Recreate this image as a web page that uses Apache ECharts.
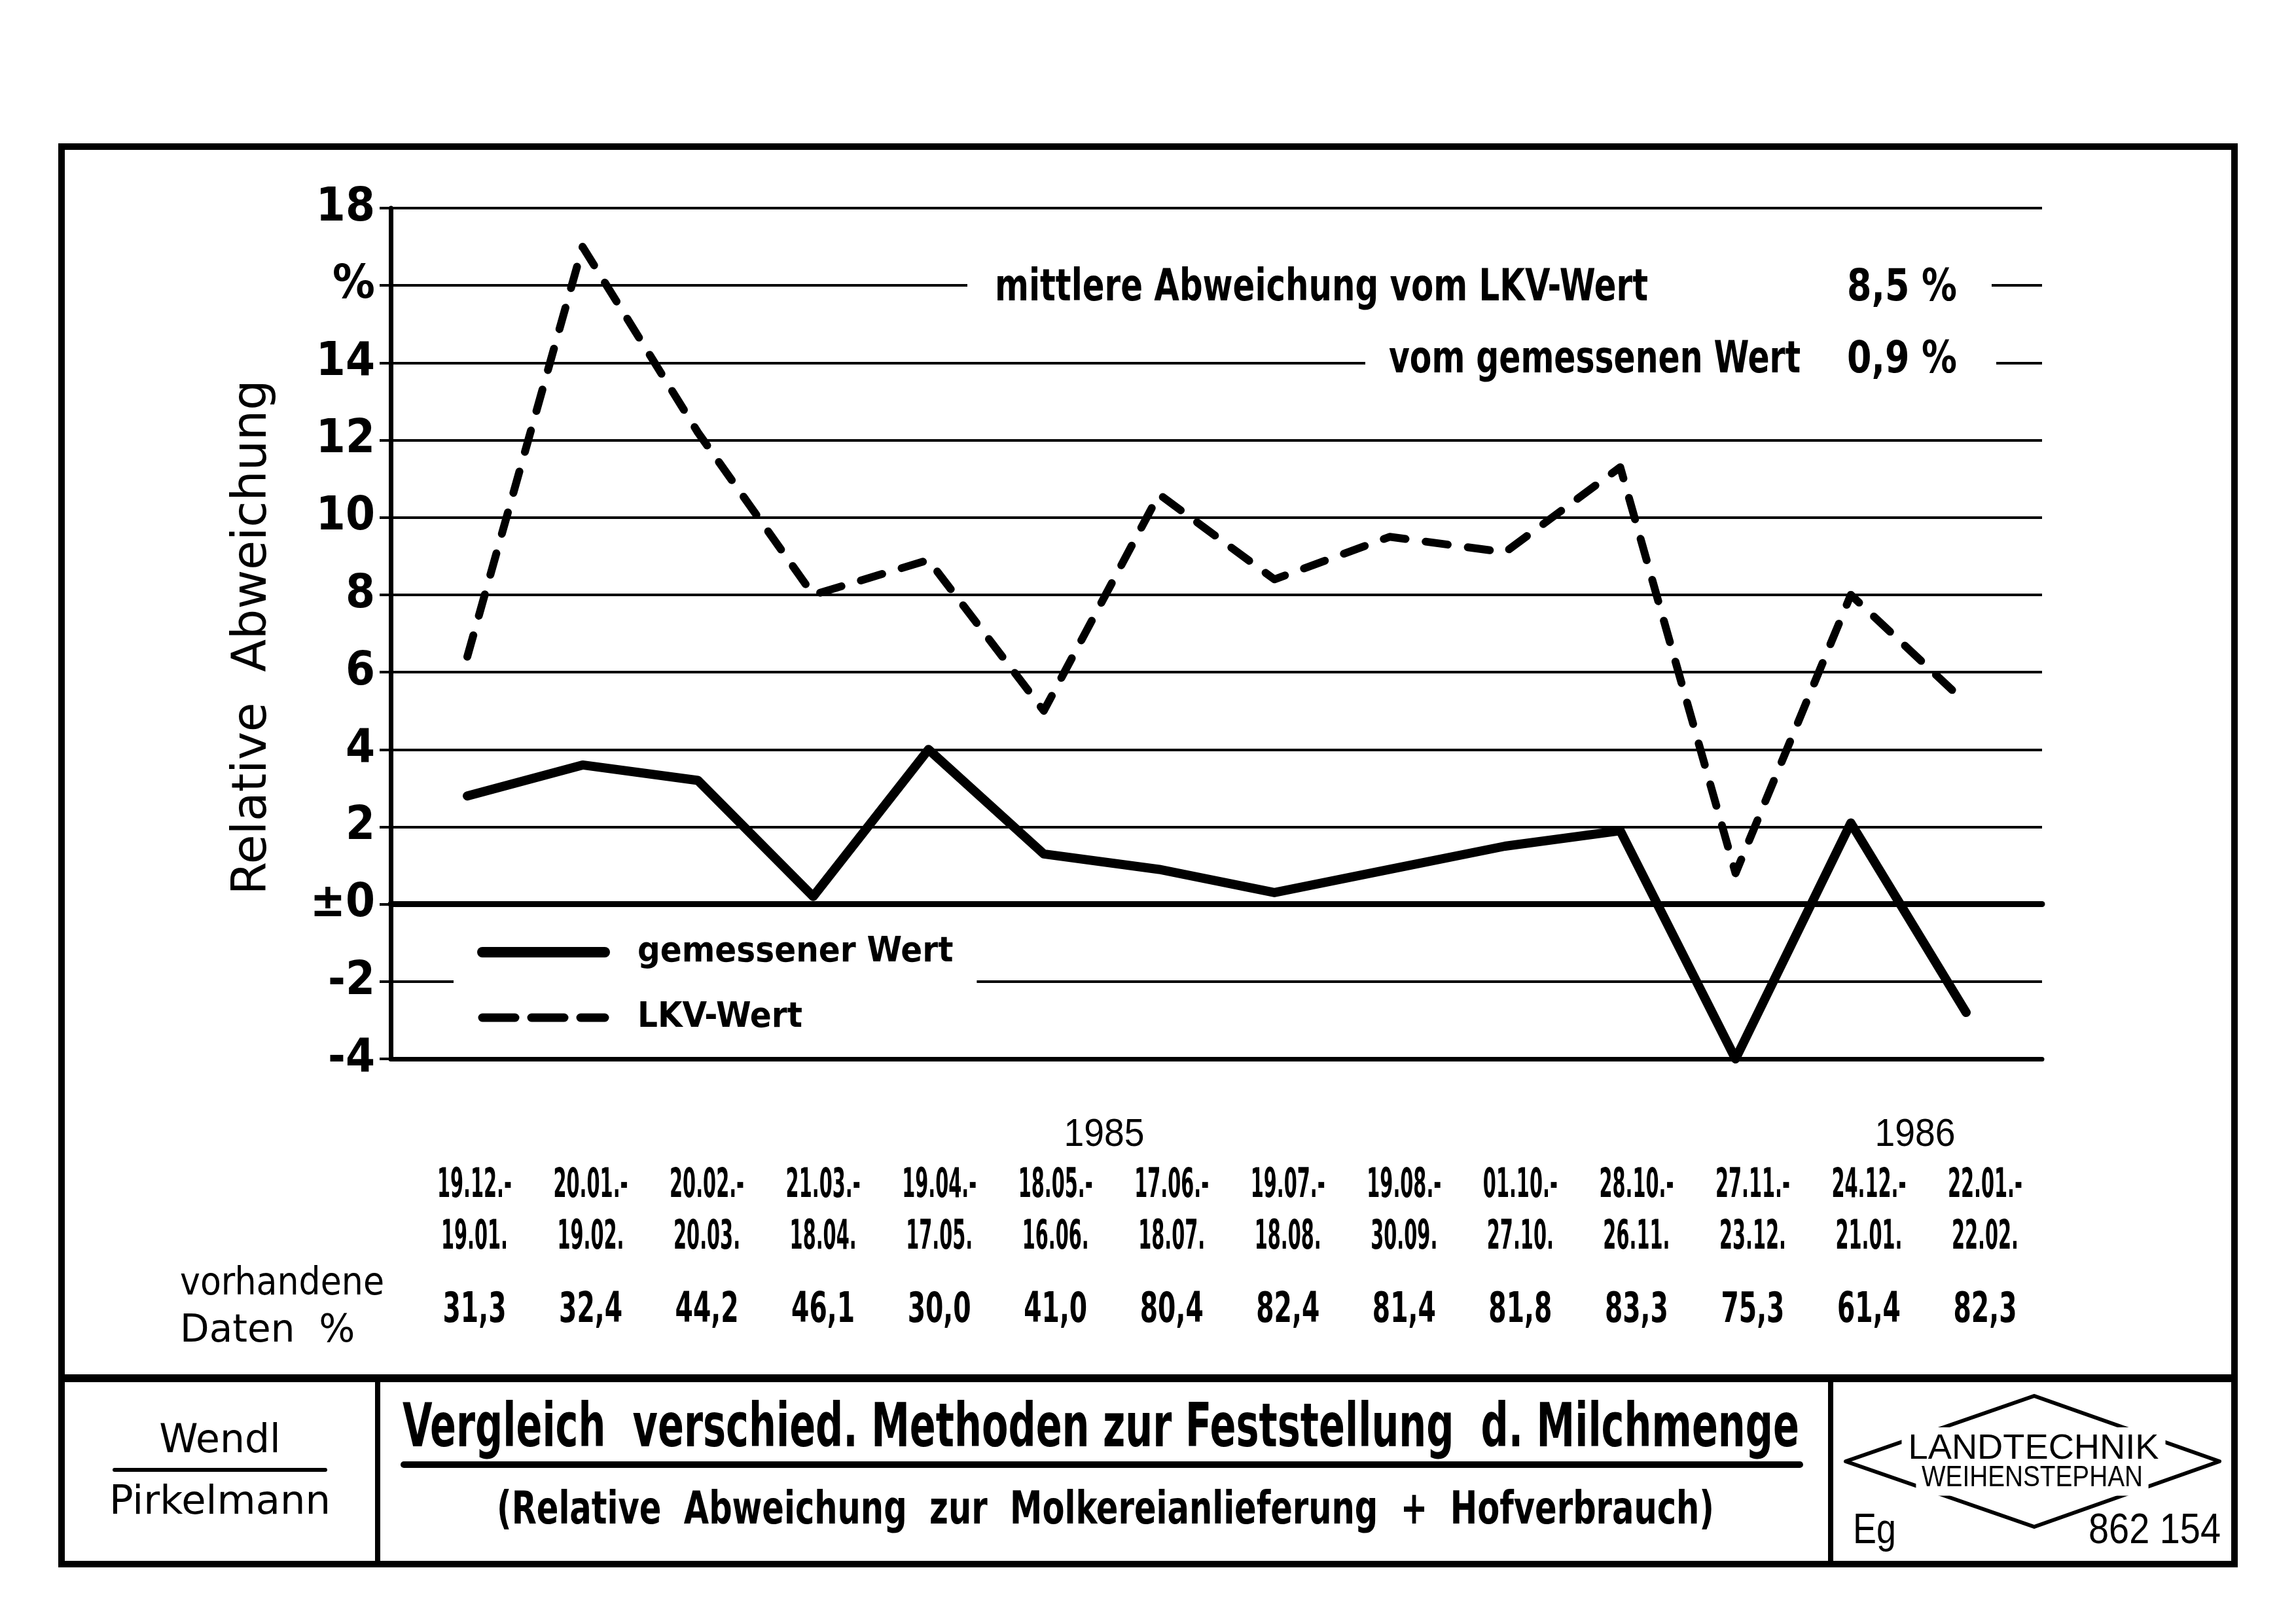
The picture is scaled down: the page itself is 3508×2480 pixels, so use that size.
<!DOCTYPE html>
<html><head><meta charset="utf-8">
<script src="https://cdn.jsdelivr.net/npm/echarts@6/dist/echarts.min.js"></script>
<style>html,body{margin:0;padding:0;background:#fff}#c{width:3508px;height:2480px}</style>
</head><body><div id="c"></div>
<script>
// ---------- data ----------
const periodStart = ['19.12.-','20.01.-','20.02.-','21.03.-','19.04.-','18.05.-','17.06.-','19.07.-','19.08.-','01.10.-','28.10.-','27.11.-','24.12.-','22.01.-'];
const periodEnd   = ['19.01.','19.02.','20.03.','18.04.','17.05.','16.06.','18.07.','18.08.','30.09.','27.10.','26.11.','23.12.','21.01.','22.02.'];
const availableData = ['31,3','32,4','44,2','46,1','30,0','41,0','80,4','82,4','81,4','81,8','83,3','75,3','61,4','82,3'];
const gemessenerWert = [2.8, 3.6, 3.2, 0.2, 4.0, 1.3, 0.9, 0.3, 0.9, 1.5, 1.9, -4.0, 2.1, -2.8];
const lkvWert        = [6.4, 17.0, 12.2, 8.0, 8.9, 5.0, 10.6, 8.4, 9.5, 9.1, 11.3, 0.8, 8.0, 5.2];
const yTickLabels = ['-4','-2','±0','2','4','6','8','10','12','14','%','18'];
const seriesNames = ['gemessener Wert', 'LKV-Wert'];
const yearLabels = ['1985', '1986'];

// ---------- fonts / helpers ----------
const NARROW = '"Liberation Sans Narrow", "DejaVu Sans Condensed", "Arial Narrow", sans-serif';
const ROUND  = '"DejaVu Sans", "Noto Sans", sans-serif';
const PLAIN  = '"Liberation Sans", Arial, sans-serif';
const mctx = document.createElement('canvas').getContext('2d');
function fitScale(text, size, family, weight, target) {
  mctx.font = weight + ' ' + size + 'px ' + family;
  const w = mctx.measureText(text).width;
  return w > 0 ? target / w : 1;
}
function T(text, x, y, size, family, weight, align, target, extra, fixedScale) {
  const style = Object.assign({ text: text, fontSize: size, fontFamily: family, fontWeight: weight,
      fill: '#000', textAlign: align, textVerticalAlign: 'middle' }, (extra && extra.style) || {});
  const e = Object.assign({ type: 'text', x: x, y: y, z: 20,
    scaleX: fixedScale ? fixedScale : (target ? fitScale(text, size, family, weight, target) : 1) }, extra || {});
  e.style = style;
  return e;
}
function L(x1, y1, x2, y2, w) {
  return { type: 'line', z: 15, shape: { x1, y1, x2, y2 }, style: { stroke: '#000', lineWidth: w, lineCap: 'round' } };
}
function W(x, y, w, h) {
  return { type: 'rect', z: 12, shape: { x, y, width: w, height: h }, style: { fill: '#fff', stroke: null } };
}

const graphics = [
  // outer frame and title block
  { type: 'rect', z: 15, shape: { x: 94, y: 224, width: 3320, height: 2166 }, style: { fill: null, stroke: '#000', lineWidth: 10 } },
  { type: 'line', z: 15, shape: { x1: 89, y1: 2106, x2: 3419, y2: 2106 }, style: { stroke: '#000', lineWidth: 12 } },
  { type: 'line', z: 15, shape: { x1: 577, y1: 2106, x2: 577, y2: 2390 }, style: { stroke: '#000', lineWidth: 8 } },
  { type: 'line', z: 15, shape: { x1: 2797, y1: 2106, x2: 2797, y2: 2390 }, style: { stroke: '#000', lineWidth: 8 } },
  // gaps in grid lines behind the annotation texts
  W(1478, 426, 1565, 18),
  W(2086, 545, 964, 18),
  // annotation texts
  T('mittlere Abweichung vom LKV-Wert', 1520, 441, 68, NARROW, 'bold', 'left', 998),
  T('8,5 %', 2822, 441, 68, NARROW, 'bold', 'left', 168),
  T('vom gemessenen Wert', 2122, 551, 68, NARROW, 'bold', 'left', 629),
  T('0,9 %', 2822, 551, 68, NARROW, 'bold', 'left', 168),
  // axis title
  T('Relative  Abweichung', 387, 974, 73, ROUND, 'normal', 'center', 0, { rotation: Math.PI / 2 }),
  // years
  T(yearLabels[0], 1687, 1734, 60, PLAIN, 'normal', 'center', 123),
  T(yearLabels[1], 2926, 1734, 60, PLAIN, 'normal', 'center', 123),
  // row label
  T('vorhandene', 275, 1963, 58, ROUND, 'normal', 'left', 312),
  T('Daten  %', 275, 2035, 58, ROUND, 'normal', 'left', 0),
  // authors
  T('Wendl', 336, 2203, 60, ROUND, 'normal', 'center', 0),
  L(175, 2246, 497, 2246, 6),
  T('Pirkelmann', 336, 2297, 60, ROUND, 'normal', 'center', 338),
  // title
  T('Vergleich  verschied. Methoden zur Feststellung  d. Milchmenge', 615, 2186, 93, NARROW, 'bold', 'left', 2134),
  L(617, 2238, 2750, 2238, 10),
  T('(Relative  Abweichung  zur  Molkereianlieferung  +  Hofverbrauch)', 759, 2310, 70, NARROW, 'bold', 'left', 1860),
  // logo
  { type: 'polygon', z: 15, shape: { points: [[2820, 2233], [3108, 2133], [3391, 2233], [3108, 2333]] }, style: { fill: null, stroke: '#000', lineWidth: 6, lineJoin: 'round' } },
  T('LANDTECHNIK', 3107, 2214, 54, PLAIN, 'normal', 'center', 383, { style: { backgroundColor: '#fff', padding: [6, 10, 6, 10] } }),
  T('WEIHENSTEPHAN', 3105, 2259, 45, PLAIN, 'normal', 'center', 338, { style: { backgroundColor: '#fff', padding: [4, 10, 4, 10] } }),
  T('Eg', 2831, 2340, 64, PLAIN, 'normal', 'left', 66),
  T('862 154', 3393, 2340, 64, PLAIN, 'normal', 'right', 202)
];

const chart = echarts.init(document.getElementById('c'), null, { renderer: 'canvas', width: 3508, height: 2480 });
const option = {
  animation: false,
  backgroundColor: '#fff',
  grid: [
    { left: 597, right: 388, top: 318, bottom: 862 },   // frame / grid lines
    { left: 714, right: 504, top: 318, bottom: 862 },   // data
    { left: 725, right: 475, top: 1700, bottom: 706 }   // table of periods
  ],
  xAxis: [
    { gridIndex: 0, type: 'value', min: 0, max: 1, axisLine: { show: true, onZero: true, lineStyle: { color: '#000', width: 9 } },
      axisTick: { show: false }, axisLabel: { show: false }, splitLine: { show: false } },
    { gridIndex: 1, type: 'category', data: periodStart, boundaryGap: false, show: false },
    { gridIndex: 2, type: 'category', data: periodStart, boundaryGap: false,
      axisLine: { show: false }, axisTick: { show: false }, splitLine: { show: false }, axisLabel: { show: false } },
    { gridIndex: 0, type: 'value', min: 0, max: 1, position: 'bottom', axisLine: { show: true, onZero: false, lineStyle: { color: '#000', width: 7 } },
      axisTick: { show: false }, axisLabel: { show: false }, splitLine: { show: false } }
  ],
  yAxis: [
    { gridIndex: 0, type: 'value', min: -4, max: 18, interval: 2,
      axisLine: { show: true, lineStyle: { color: '#000', width: 7 } },
      axisTick: { show: true, inside: false, length: 17, lineStyle: { color: '#000', width: 4 } },
      axisLabel: { margin: 24, color: '#000', fontSize: 72, fontFamily: NARROW, fontWeight: 'bold',
        formatter: function (v) { return yTickLabels[Math.round((v + 4) / 2)]; } },
      splitLine: { show: true, lineStyle: { color: '#000', width: 4 } } },
    { gridIndex: 0, type: 'value', min: -4, max: 18, interval: 2, position: 'right',
      axisLine: { show: true, lineStyle: { color: '#000', width: 6 } },
      axisTick: { show: false }, axisLabel: { show: false }, splitLine: { show: false } },
    { gridIndex: 1, type: 'value', min: -4, max: 18, interval: 2, show: false },
    { gridIndex: 2, type: 'value', show: false }
  ],
  legend: {
    left: 693, top: 1405, orient: 'vertical', selectedMode: false,
    backgroundColor: '#fff', padding: [10, 36, 10, 36], itemGap: 20,
    itemWidth: 187, itemHeight: 20,
    itemStyle: { color: 'rgba(0,0,0,0)', borderColor: 'rgba(0,0,0,0)', borderWidth: 0 },
    textStyle: { color: '#000', fontSize: 54, fontFamily: NARROW, fontWeight: 'bold', lineHeight: 80, padding: [0, 0, 0, 45] },
    data: [
      { name: seriesNames[0], lineStyle: { width: 16, type: 'solid', cap: 'round' } },
      { name: seriesNames[1], lineStyle: { width: 13, type: [50, 25], cap: 'round' } }
    ]
  },
  series: [
    { name: seriesNames[0], type: 'line', xAxisIndex: 1, yAxisIndex: 2, data: gemessenerWert,
      symbol: 'none', color: '#000', lineStyle: { color: '#000', width: 14, cap: 'round', join: 'round' } },
    { name: seriesNames[1], type: 'line', xAxisIndex: 1, yAxisIndex: 2, data: lkvWert,
      symbol: 'none', color: '#000', lineStyle: { color: '#000', width: 12, type: [34, 31], cap: 'round', join: 'round' } }
  ]
};
chart.setOption(option);

// table of periods and available data, placed on the category axis of grid 2
const dateSize = 62, valSize = 64;
const dateScale = fitScale('19.12.-', dateSize, NARROW, 'bold', 114);
const valScale = fitScale('31,3', valSize, NARROW, 'bold', 97);
const tableEls = [];
periodStart.forEach(function (p, i) {
  const x = chart.convertToPixel({ xAxisIndex: 2 }, i);
  tableEls.push(T(periodStart[i], x, 1813, dateSize, NARROW, 'bold', 'center', 0, null, dateScale));
  tableEls.push(T(periodEnd[i], x, 1892, dateSize, NARROW, 'bold', 'center', 0, null, dateScale));
  tableEls.push(T(availableData[i], x, 2003, valSize, NARROW, 'bold', 'center', 0, null, valScale));
});
chart.setOption({ graphic: { elements: graphics.concat(tableEls) } });
</script>
</body></html>
